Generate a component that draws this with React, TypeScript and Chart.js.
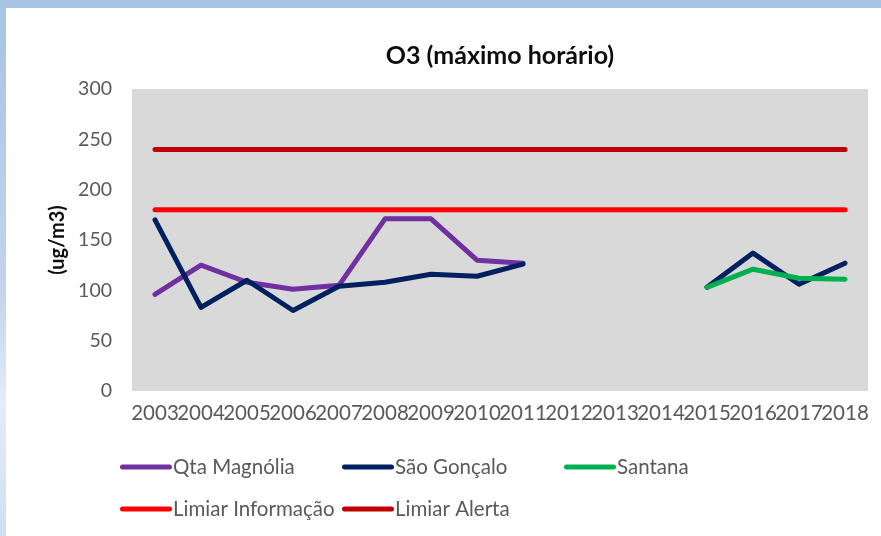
import React, { useEffect, useRef } from "react";
import { Chart, registerables } from "chart.js";

Chart.register(...registerables);

const years = ["2003","2004","2005","2006","2007","2008","2009","2010","2011","2012","2013","2014","2015","2016","2017","2018"];
const qtaMagnolia = [96,125,108,101,105,171,171,130,127,null,null,null,null,null,null,null];
const saoGoncalo = [170,83,110,80,104,108,116,114,126,null,null,null,103,137,106,127];
const santana = [null,null,null,null,null,null,null,null,null,null,null,null,103,121,112,111];
const limiarInformacao = [180,180,180,180,180,180,180,180,180,180,180,180,180,180,180,180];
const limiarAlerta = [240,240,240,240,240,240,240,240,240,240,240,240,240,240,240,240];
const yTicks = [0, 50, 100, 150, 200, 250, 300];

const FONT = "Lato, 'Open Sans', sans-serif";
const TEXT_GREY = "#595959";

const plotBg = {
  id: "plotBg",
  beforeDraw(chart: any) {
    const { ctx, chartArea } = chart;
    ctx.save();
    ctx.fillStyle = "#D9D9D9";
    ctx.fillRect(chartArea.left, chartArea.top, chartArea.right - chartArea.left, chartArea.bottom - chartArea.top);
    ctx.restore();
  },
};

// legend slot positions (style only)
const legendSlots = [
  { x: 120, y: 467 },
  { x: 342, y: 467 },
  { x: 564, y: 467 },
  { x: 120, y: 509 },
  { x: 342, y: 509 },
];

const gridLegend = {
  id: "gridLegend",
  afterDraw(chart: any) {
    const { ctx } = chart;
    ctx.save();
    chart.data.datasets.forEach((ds: any, i: number) => {
      const slot = legendSlots[i];
      if (!slot) return;
      ctx.strokeStyle = ds.borderColor;
      ctx.lineWidth = 5;
      ctx.lineCap = "round";
      ctx.beginPath();
      ctx.moveTo(slot.x + 2.5, slot.y);
      ctx.lineTo(slot.x + 49.5, slot.y);
      ctx.stroke();
      ctx.fillStyle = TEXT_GREY;
      ctx.font = `20.5px ${FONT}`;
      ctx.textBaseline = "middle";
      ctx.textAlign = "left";
      ctx.fillText(ds.label, slot.x + 53, slot.y);
    });
    ctx.restore();
  },
};

export default function App() {
  const ref = useRef<HTMLCanvasElement | null>(null);

  useEffect(() => {
    if (!ref.current) return;
    const lineDs = (label: string, data: (number | null)[], color: string, order: number) => ({
      label,
      data,
      borderColor: color,
      backgroundColor: color,
      borderWidth: 5,
      pointRadius: 0,
      pointHoverRadius: 0,
      borderCapStyle: "round" as const,
      borderJoinStyle: "round" as const,
      tension: 0,
      spanGaps: false,
      fill: false,
      order,
    });
    const chart = new Chart(ref.current, {
      type: "line",
      data: {
        labels: years,
        datasets: [
          lineDs("Qta Magnólia", qtaMagnolia, "#7030A0", 5),
          lineDs("São Gonçalo", saoGoncalo, "#002060", 4),
          lineDs("Santana", santana, "#00B050", 3),
          lineDs("Limiar Informação", limiarInformacao, "#FF0000", 2),
          lineDs("Limiar Alerta", limiarAlerta, "#C00000", 1),
        ],
      },
      options: {
        responsive: false,
        animation: false,
        devicePixelRatio: 1,
        layout: { padding: { left: 42, right: 13, top: 0, bottom: 112 } },
        plugins: {
          legend: { display: false },
          tooltip: { enabled: false },
          title: {
            display: true,
            text: "O3 (máximo horário)",
            fullSize: false,
            color: "#0D0D0D",
            font: { family: FONT, size: 25, weight: "bold" },
            padding: { top: 41, bottom: 18 },
          },
        },
        scales: {
          x: {
            type: "category",
            offset: true,
            grid: { display: false, drawTicks: false },
            border: { display: false },
            ticks: {
              autoSkip: false,
              maxRotation: 0,
              minRotation: 0,
              padding: 10,
              color: TEXT_GREY,
              font: { family: FONT, size: 20.5 },
            },
            afterFit(scale: any) {
              scale.height = 33;
            },
          },
          y: {
            min: 0,
            max: 300,
            grid: { display: false, drawTicks: false },
            border: { display: false },
            afterBuildTicks(scale: any) {
              scale.ticks = yTicks.map((v) => ({ value: v }));
            },
            ticks: {
              padding: 20,
              color: TEXT_GREY,
              font: { family: FONT, size: 19.5 },
            },
            title: {
              display: true,
              text: "(ug/m3)",
              color: "#0D0D0D",
              font: { family: FONT, size: 20, weight: "bold" },
              padding: { top: 4, bottom: 4 },
            },
            afterFit(scale: any) {
              scale.width = 90;
            },
          },
        },
      },
      plugins: [plotBg, gridLegend],
    });
    return () => chart.destroy();
  }, []);

  return (
    <div
      style={{
        position: "fixed",
        left: 0,
        top: 0,
        width: 881,
        height: 536,
        overflow: "hidden",
        background: "linear-gradient(180deg, #A9C3E3 0%, #C3D5EC 55%, #E4ECF7 75%, #D2DFF0 100%)",
      }}
    >
      <div style={{ position: "absolute", left: 6, top: 8, right: 0, bottom: 0, background: "#FFFFFF" }} />
      <canvas ref={ref} width={881} height={536} style={{ position: "absolute", left: 0, top: 0, width: 881, height: 536 }} />
    </div>
  );
}
